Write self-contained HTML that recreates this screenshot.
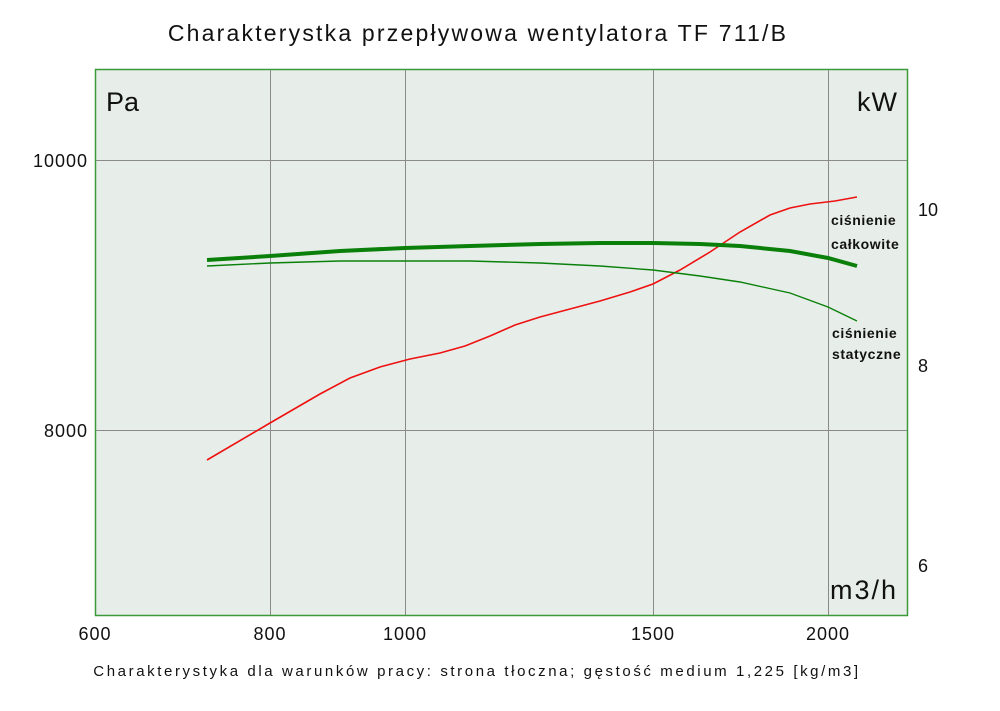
<!DOCTYPE html>
<html><head><meta charset="utf-8"><style>body{margin:0;background:#fff}</style></head><body>
<svg width="1000" height="706" xmlns="http://www.w3.org/2000/svg" font-family="Liberation Sans, DejaVu Sans, sans-serif">
<rect x="0" y="0" width="1000" height="706" fill="#fff"/>
<text x="478" y="41" font-size="23" text-anchor="middle" fill="#111" letter-spacing="2.2">Charakterystka przepływowa wentylatora TF 711/B</text>
<rect x="95.5" y="69.5" width="812" height="546" fill="#e7eee9" stroke="#3a9a3a" stroke-width="1.5"/>
<g stroke="#8a8a8a" stroke-width="1">
<line x1="270.5" y1="70" x2="270.5" y2="615"/>
<line x1="405.5" y1="70" x2="405.5" y2="615"/>
<line x1="653.5" y1="70" x2="653.5" y2="615"/>
<line x1="828.5" y1="70" x2="828.5" y2="615"/>
<line x1="96" y1="160.5" x2="907" y2="160.5"/>
<line x1="96" y1="430.5" x2="907" y2="430.5"/>
</g>
<g font-size="27" fill="#111">
<text x="106" y="111">Pa</text>
<text x="898" y="111" text-anchor="end" letter-spacing="1">kW</text>
<text x="898" y="599" text-anchor="end" letter-spacing="2">m3/h</text>
</g>
<g font-size="18" fill="#111">
<text x="88" y="167" text-anchor="end" letter-spacing="1">10000</text>
<text x="88" y="437" text-anchor="end" letter-spacing="1">8000</text>
<text x="918" y="216">10</text>
<text x="918" y="372">8</text>
<text x="918" y="572">6</text>
<text x="95" y="640" text-anchor="middle" letter-spacing="1">600</text>
<text x="270" y="640" text-anchor="middle" letter-spacing="1">800</text>
<text x="405" y="640" text-anchor="middle" letter-spacing="1">1000</text>
<text x="653" y="640" text-anchor="middle" letter-spacing="1">1500</text>
<text x="828" y="640" text-anchor="middle" letter-spacing="1">2000</text>
</g>
<polyline fill="none" stroke="#ee1111" stroke-width="1.6" points="207,460 270,423 320,394 350,378 380,367 410,359 440,353 465,346 490,336 515,325 540,317 570,309 600,301 630,292 653,284 680,270 710,252 740,232 770,215 790,208 810,204 835,201 857,197"/>
<polyline fill="none" stroke="#0a800a" stroke-width="4" points="207,260 270,256 340,251 405,248 470,246 540,244 600,243 653,243 700,244 740,246 790,251 828,258 857,266"/>
<polyline fill="none" stroke="#0a800a" stroke-width="1.4" points="207,266 270,263 340,261 405,261 470,261 540,263 600,266 653,270 700,276 740,282 790,293 828,307 857,321"/>
<g font-size="14" fill="#111" font-weight="bold" letter-spacing="0.6">
<text x="831" y="225">ciśnienie</text>
<text x="831" y="249">całkowite</text>
<text x="832" y="338">ciśnienie</text>
<text x="832" y="359">statyczne</text>
</g>
<text x="477" y="676" font-size="15" text-anchor="middle" fill="#111" letter-spacing="2.6">Charakterystyka dla warunków pracy: strona tłoczna; gęstość medium 1,225 [kg/m3]</text>
</svg>
</body></html>
